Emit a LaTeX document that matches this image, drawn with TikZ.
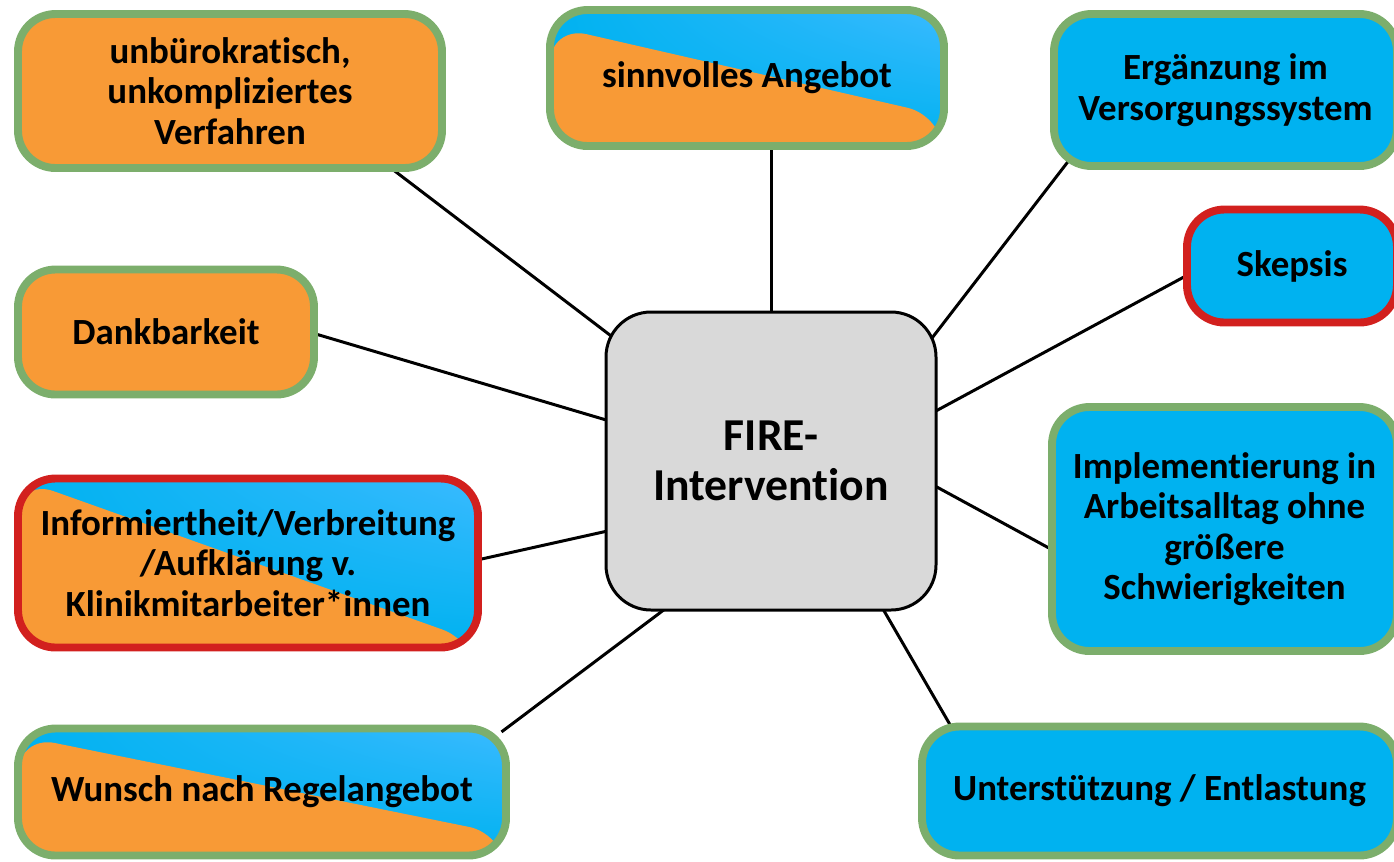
\documentclass[tikz,border=0pt]{standalone}
\usepackage{fontspec}
\setmainfont{Carlito}[Ligatures=NoCommon]
\usetikzlibrary{shapes,positioning,backgrounds,shadings}
\definecolor{boxorange}{RGB}{248,154,54}
\definecolor{boxblue}{RGB}{0,178,240}
\definecolor{boxlight}{RGB}{58,186,255}
\definecolor{boxgreen}{RGB}{124,174,108}
\definecolor{boxred}{RGB}{210,32,30}
\definecolor{boxgray}{RGB}{217,217,217}

\begin{document}
\begin{tikzpicture}
    \tikzset{vertex/.style = {shape=rectangle,rounded corners=0.75cm,align=center,line width=4.5pt,inner sep=2pt,
        font=\bfseries\fontsize{21}{23}\selectfont}}
    \tikzset{pro/.style = {vertex,draw=boxgreen}}
    \tikzset{contra/.style = {vertex,draw=boxred}}
    \tikzset{split/.style 2 args = {fill=boxblue,path picture={
        \shade[lower left=boxblue,upper right=boxlight,lower right=boxblue,upper left=boxblue]
            (path picture bounding box.south west) rectangle (path picture bounding box.north east);
        \fill[boxorange] ([yshift=-#1]path picture bounding box.north west)
            -- ([yshift=#2]path picture bounding box.south east)
            -- (path picture bounding box.south east)
            -- (path picture bounding box.south west) -- cycle;}}}
    \tikzset{edge/.style = {line width=1.7pt,shorten <=-6pt,shorten >=-6pt}}
    \useasboundingbox (0,0) rectangle (27.88,-17.22);
    % vertices
    \node[shape=rectangle,draw,fill=boxgray,rounded corners=0.9cm,line width=1.7pt,
        minimum width=6.6cm,minimum height=5.96cm,align=center,
        font=\bfseries\fontsize{26}{28.5}\selectfont] (fire) at (15.42,-9.22) {FIRE-\\ Intervention};
    \node[pro,fill=boxorange,minimum width=8.48cm,minimum height=3.08cm] (unb) at (4.60,-1.82)
        {unbürokratisch,\\ unkompliziertes\\ Verfahren};
    \node[pro,split={9pt}{17pt},minimum width=7.88cm,minimum height=2.72cm] (sinn) at (14.94,-1.56)
        {sinnvolles Angebot};
    \node[pro,fill=boxblue,minimum width=6.86cm,minimum height=3.04cm] (erg) at (24.51,-1.80)
        {Ergänzung im\\ Versorgungssystem};
    \node[contra,fill=boxblue,minimum width=4.2cm,minimum height=2.26cm] (skep) at (25.84,-5.32)
        {Skepsis};
    \node[pro,fill=boxorange,minimum width=5.92cm,minimum height=2.5cm] (dank) at (3.32,-6.64)
        {Dankbarkeit};
    \node[pro,fill=boxblue,minimum width=6.9cm,minimum height=4.88cm] (impl) at (24.49,-10.58)
        {Implementierung in\\ Arbeitsalltag ohne\\ größere\\ Schwierigkeiten};
    \node[contra,split={0pt}{3pt},minimum width=9.2cm,minimum height=3.38cm] (info) at (4.96,-11.26)
        {Informiertheit/Verbreitung\\ /Aufklärung v.\\ Klinikmitarbeiter*innen};
    \node[pro,split={4pt}{12pt},minimum width=9.76cm,minimum height=2.54cm] (wun) at (5.24,-15.84)
        {Wunsch nach Regelangebot};
    \node[pro,fill=boxblue,minimum width=9.5cm,minimum height=2.58cm] (unt) at (23.19,-15.82)
        {Unterstützung / Entlastung};
    % edges
    \begin{scope}[on background layer]
        \draw[edge] (unb.-26) -- (fire.142);
        \draw[edge] (fire.north) -- (fire.north |- sinn.south);
        \draw[edge] (erg.-154) -- (fire.38);
        \draw[edge] (skep.186) -- (fire.17);
        \draw[edge] (dank.-1) -- (fire.166);
        \draw[edge] (impl.186) -- (fire.-9);
        \draw[edge] (info.1) -- (fire.203);
        \draw[edge] (wun.15) -- (fire.234);
        \draw[edge] (unt.162) -- (fire.-53);
    \end{scope}
\end{tikzpicture}
\end{document}
